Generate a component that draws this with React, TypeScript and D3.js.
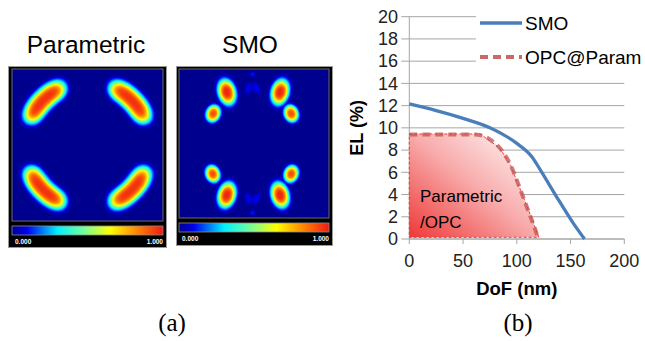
import { useMemo } from "react";
import * as d3 from "d3";

// (a) Parametric 照明: 4 arcs on a ring (angle in screen coords, deg)
const paramArcAngle = [45, 135, 225, 315];
const paramArcRadius = [0.415, 0.415, 0.415, 0.415];
const paramArcPeak = [0.97, 0.97, 0.97, 0.97];

// (a) SMO 照明: blobs (normalized pupil coords)
const smoBlobX = [0.319, 0.228, 0.674, 0.748, 0.225, 0.319, 0.748, 0.674, 0.465, 0.515, 0.49, 0.465, 0.515, 0.49];
const smoBlobY = [0.155, 0.299, 0.155, 0.299, 0.704, 0.846, 0.704, 0.846, 0.13, 0.13, 0.035, 0.87, 0.87, 0.965];
const smoBlobSx = [0.055, 0.044, 0.055, 0.044, 0.044, 0.055, 0.044, 0.055, 0.024, 0.024, 0.018, 0.024, 0.024, 0.018];
const smoBlobSy = [0.083, 0.055, 0.083, 0.055, 0.055, 0.083, 0.055, 0.083, 0.042, 0.042, 0.018, 0.042, 0.042, 0.018];
const smoBlobRot = [-15, 20, 15, -20, -20, 15, 20, -15, 25, -25, 0, -25, 25, 0];
const smoBlobPeak = [1.0, 0.93, 1.0, 0.93, 0.93, 1.0, 0.93, 1.0, 0.11, 0.11, 0.13, 0.11, 0.11, 0.13];

// colour map (jet)
const jetStops = [0, 0.1, 0.3, 0.47, 0.65, 0.82, 1];
const jetColors = ["#00008e", "#0000f0", "#00f0ff", "#70ffa0", "#ffff00", "#ff8a00", "#f01a14"];

// (b) EL vs DoF
const smoDoF = [0, 25, 50, 75, 100, 114, 122, 137, 152, 163];
const smoEL = [12.15, 11.55, 10.85, 10.0, 8.6, 7.4, 6.2, 3.8, 1.5, 0];
const opcDoF = [0, 30, 60, 68, 76, 85, 94, 105, 112, 117, 120];
const opcEL = [9.4, 9.4, 9.4, 9.3, 8.9, 8.1, 6.7, 4.0, 2.2, 0.9, 0];
const regionDoF = [0, 66, 84, 94, 106, 115, 120.5];
const regionTop = [9.45, 9.45, 8.2, 6.7, 3.8, 1.6, 0.15];
const regionBase = 0.15;
const elTicks = [0, 2, 4, 6, 8, 10, 12, 14, 16, 18, 20];
const dofTicks = [0, 50, 100, 150, 200];

const jet = d3.scaleLinear<string>().domain(jetStops).range(jetColors).clamp(true);

const N = 110;

function paramField(u: number, v: number) {
  const dx = u - 0.5;
  const dy = v - 0.5;
  const r = Math.hypot(dx, dy);
  const th = (Math.atan2(dy, dx) * 180) / Math.PI;
  let best = 0;
  paramArcAngle.forEach((a, i) => {
    const dth = ((th - a + 540) % 360) - 180;
    const q = ((r - paramArcRadius[i]) / 0.066) ** 2 + (dth / 24) ** 4;
    best = Math.max(best, paramArcPeak[i] * Math.exp(-Math.pow(q, 1.5)));
  });
  return best;
}

function smoField(u: number, v: number) {
  let best = 0;
  smoBlobX.forEach((bx, i) => {
    const dx = u - bx;
    const dy = v - smoBlobY[i];
    const p = (smoBlobRot[i] * Math.PI) / 180;
    const uu = dx * Math.cos(p) + dy * Math.sin(p);
    const vv = -dx * Math.sin(p) + dy * Math.cos(p);
    const q = (uu / smoBlobSx[i]) ** 2 + (vv / smoBlobSy[i]) ** 2;
    best = Math.max(best, smoBlobPeak[i] * Math.exp(-Math.pow(q, 1.5)));
  });
  return best;
}

function Heatmap({
  frame,
  plot,
  bar,
  labelY,
  field,
}: {
  frame: [number, number, number, number];
  plot: [number, number, number, number];
  bar: [number, number, number, number];
  labelY: number;
  field: (u: number, v: number) => number;
}) {
  const bands = useMemo(() => {
    const values = new Array(N * N);
    for (let j = 0; j < N; j++) {
      for (let i = 0; i < N; i++) {
        values[j * N + i] = field((i + 0.5) / N, (j + 0.5) / N);
      }
    }
    const thresholds = d3.range(0.02, 1.0, 0.02);
    const path = d3.geoPath();
    return d3
      .contours()
      .size([N, N])
      .thresholds(thresholds)(values)
      .map((c) => ({ d: path(c) ?? "", fill: jet(c.value) }));
  }, [field]);

  const [px, py, pw, ph] = plot;
  return (
    <g>
      <rect x={frame[0]} y={frame[1]} width={frame[2]} height={frame[3]} fill="#000" stroke="#9a9a9a" />
      <clipPath id={`clip-${px}`}>
        <rect x={px} y={py} width={pw} height={ph} />
      </clipPath>
      <g clipPath={`url(#clip-${px})`}>
        <rect x={px} y={py} width={pw} height={ph} fill={jet(0)} />
        <g transform={`translate(${px},${py}) scale(${pw / N},${ph / N})`}>
          {bands.map((b, i) => (
            <path key={i} d={b.d} fill={b.fill} />
          ))}
        </g>
      </g>
      <rect x={px} y={py} width={pw} height={ph} fill="none" stroke="#6a6a6a" />
      <rect x={bar[0]} y={bar[1]} width={bar[2]} height={bar[3]} fill="url(#jetbar)" stroke="#8a8a8a" strokeWidth={0.8} />
      <text x={bar[0] + 3} y={labelY} fill="#fff" fontSize={6.5} fontWeight="bold" fontFamily="Liberation Sans, Arial">
        0.000
      </text>
      <text x={bar[0] + bar[2]} y={labelY} fill="#fff" fontSize={6.5} fontWeight="bold" textAnchor="end" fontFamily="Liberation Sans, Arial">
        1.000
      </text>
    </g>
  );
}

function ELChart() {
  const x = d3.scaleLinear().domain([0, 200]).range([409.3, 624.3]);
  const y = d3.scaleLinear().domain([0, 20]).range([239, 16.7]);

  const smoLine = d3
    .line<number>()
    .x((d) => x(d))
    .y((_, i) => y(smoEL[i]))
    .curve(d3.curveMonotoneX)(smoDoF);
  const opcLine = d3
    .line<number>()
    .x((d) => x(d))
    .y((_, i) => y(opcEL[i]))
    .curve(d3.curveMonotoneX)(opcDoF);
  const region = d3
    .area<number>()
    .x((d) => x(d))
    .y0(y(regionBase))
    .y1((_, i) => y(regionTop[i]))(regionDoF);

  const font = "Liberation Sans, Arial, sans-serif";
  const [x0, x1] = x.range();
  const [yb, yt] = y.range();

  return (
    <g fontFamily={font}>
      <defs>
        <linearGradient id="regionFill" x1="0" y1="1" x2="1" y2="0">
          <stop offset="0" stopColor="#ee3838" />
          <stop offset="0.5" stopColor="#f8aaaa" />
          <stop offset="1" stopColor="#ffffff" />
        </linearGradient>
      </defs>
      {elTicks.map((t) => (
        <line key={t} x1={x0 - 8} x2={x1} y1={y(t)} y2={y(t)} stroke="#a6a6a6" strokeWidth={1} />
      ))}
      {dofTicks.map((t) => (
        <line key={t} x1={x(t)} x2={x(t)} y1={yb} y2={yb + 5} stroke="#a6a6a6" strokeWidth={1} />
      ))}
      <line x1={x0} x2={x0} y1={yt} y2={yb} stroke="#a6a6a6" />
      <line x1={x0} x2={x1} y1={yb} y2={yb} stroke="#a6a6a6" />

      <path d={region ?? ""} fill="url(#regionFill)" stroke="#ff2020" strokeWidth={0.9} strokeDasharray="3,2" />
      <path d={opcLine ?? ""} fill="none" stroke="#c0504d" strokeOpacity={0.75} strokeWidth={4} strokeDasharray="8,5" />
      <path d={smoLine ?? ""} fill="none" stroke="#4a7ebb" strokeWidth={3.3} />

      <text x={420} y={202} fontSize={17}>Parametric</text>
      <text x={420} y={228} fontSize={17}>/OPC</text>

      {elTicks.map((t) => (
        <text key={t} x={398} y={y(t)} dy="0.35em" fontSize={18} textAnchor="end" fill="#222">
          {t}
        </text>
      ))}
      {dofTicks.map((t) => (
        <text key={t} x={x(t)} y={266.5} fontSize={18} textAnchor="middle" fill="#222">
          {t}
        </text>
      ))}
      <text transform={`translate(363,${y(10)}) rotate(-90)`} fontSize={18} fontWeight="bold" textAnchor="middle">
        EL (%)
      </text>
      <text x={x(100)} y={295} fontSize={18.5} fontWeight="bold" textAnchor="middle">
        DoF (nm)
      </text>

      {/* Legend */}
      <rect x={476} y={6} width={175} height={66} fill="#fff" />
      <line x1={480} x2={522} y1={23} y2={23} stroke="#4a7ebb" strokeWidth={3.3} />
      <text x={525} y={30} fontSize={19}>SMO</text>
      <line x1={480} x2={522} y1={57} y2={57} stroke="#c0504d" strokeOpacity={0.85} strokeWidth={4} strokeDasharray="8,5" />
      <text x={525} y={64} fontSize={19}>OPC@Param</text>
    </g>
  );
}

export default function App() {
  const barStops = d3.range(0, 1.0001, 0.05);
  return (
    <svg
      width={645}
      height={341}
      viewBox="0 0 645 341"
      style={{ position: "fixed", left: 0, top: 0, background: "#fff" }}
    >
      <defs>
        <linearGradient id="jetbar" x1="0" x2="1" y1="0" y2="0">
          {barStops.map((s) => (
            <stop key={s} offset={s} stopColor={jet(s)} />
          ))}
        </linearGradient>
      </defs>
      <rect width={645} height={341} fill="#fff" />

      <text x={86} y={53} fontSize={24.5} textAnchor="middle" fontFamily="Liberation Sans, Arial">
        Parametric
      </text>
      <text x={250} y={53} fontSize={24.5} textAnchor="middle" fontFamily="Liberation Sans, Arial">
        SMO
      </text>
      <Heatmap frame={[8.5, 66.5, 158, 181]} plot={[12, 69, 151, 152]} bar={[12, 226, 151, 9]} labelY={244} field={paramField} />
      <Heatmap frame={[176.5, 66.5, 156, 179]} plot={[179, 69, 150, 149]} bar={[179, 223, 150, 9]} labelY={241} field={smoField} />

      <ELChart />

      <text x={172} y={331} fontSize={25} textAnchor="middle" fontFamily="Liberation Serif, Times New Roman, serif">
        (a)
      </text>
      <text x={518} y={331} fontSize={25} textAnchor="middle" fontFamily="Liberation Serif, Times New Roman, serif">
        (b)
      </text>
    </svg>
  );
}
